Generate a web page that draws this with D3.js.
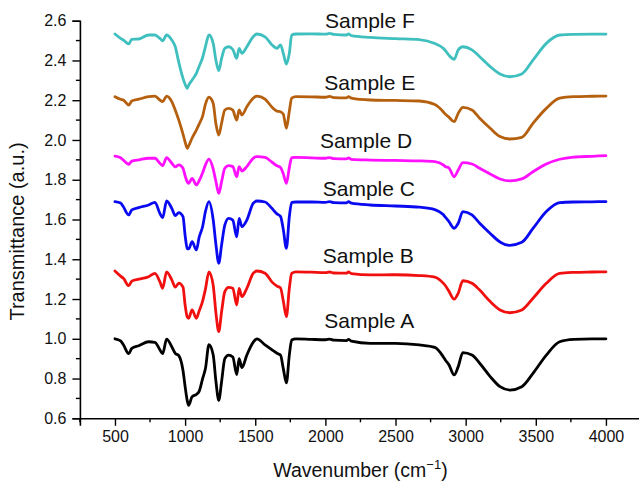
<!DOCTYPE html>
<html>
<head>
<meta charset="utf-8">
<script src="https://cdn.jsdelivr.net/npm/d3@7"></script>
<style>
  html, body { margin: 0; padding: 0; background: #fff; }
  svg { display: block; font-family: "Liberation Sans", Arial, sans-serif; }
</style>
</head>
<body>
<svg id="chart" width="639" height="483"></svg>
<script>
// ---------------- data ----------------
const wavenumbers = [500, 540, 560, 598, 620, 670, 740, 785, 820, 840, 868, 905, 930, 955, 985, 1000, 1015, 1025, 1050, 1080,
  1100, 1125, 1145, 1170, 1200, 1220, 1240, 1260, 1283, 1310, 1340, 1368, 1385, 1405, 1440, 1485, 1512, 1570, 1620, 1655,
  1680, 1700, 1722, 1743, 1760, 1790, 1900, 2000, 2030, 2060, 2150, 2165, 2185, 2320, 2500, 2670, 2780, 2840, 2855, 2880,
  2918, 2947, 2980, 3045, 3100, 3175, 3245, 3315, 3400, 3480, 3575, 3670, 3770, 3900, 4000];

const sampleA = [1.000, 0.990, 0.970, 0.925, 0.952, 0.965, 0.985, 0.982, 0.945, 0.925, 0.998, 0.960, 0.927, 0.915, 0.840, 0.760, 0.690, 0.665, 0.709, 0.720,
  0.735, 0.800, 0.850, 0.970, 0.920, 0.784, 0.690, 0.784, 0.900, 0.918, 0.908, 0.820, 0.900, 0.855, 0.918, 0.982, 1.000, 0.969, 0.944, 0.927,
  0.918, 0.850, 0.778, 0.918, 0.994, 1.000, 0.997, 0.995, 0.998, 0.993, 0.991, 0.997, 0.988, 0.977, 0.977, 0.969, 0.957, 0.910, 0.893, 0.870,
  0.818, 0.860, 0.930, 0.918, 0.877, 0.810, 0.759, 0.742, 0.759, 0.826, 0.918, 0.985, 0.997, 1.000, 1.000];

const sampleB = [1.341, 1.315, 1.304, 1.267, 1.290, 1.300, 1.312, 1.329, 1.287, 1.254, 1.337, 1.296, 1.260, 1.280, 1.260, 1.170, 1.110, 1.103, 1.145, 1.103,
  1.140, 1.190, 1.250, 1.337, 1.270, 1.128, 1.036, 1.136, 1.237, 1.259, 1.254, 1.170, 1.254, 1.212, 1.254, 1.329, 1.341, 1.330, 1.285, 1.265,
  1.256, 1.190, 1.111, 1.254, 1.329, 1.337, 1.335, 1.333, 1.336, 1.331, 1.330, 1.336, 1.328, 1.321, 1.322, 1.318, 1.310, 1.280, 1.268, 1.240,
  1.199, 1.229, 1.292, 1.279, 1.245, 1.187, 1.145, 1.131, 1.145, 1.204, 1.279, 1.329, 1.334, 1.336, 1.337];

const sampleC = [1.690, 1.683, 1.664, 1.623, 1.648, 1.660, 1.673, 1.686, 1.631, 1.609, 1.693, 1.656, 1.620, 1.635, 1.614, 1.520, 1.455, 1.452, 1.488, 1.447,
  1.510, 1.565, 1.640, 1.690, 1.600, 1.472, 1.380, 1.472, 1.572, 1.606, 1.597, 1.513, 1.606, 1.564, 1.597, 1.681, 1.693, 1.688, 1.655, 1.628,
  1.616, 1.550, 1.455, 1.614, 1.686, 1.688, 1.688, 1.686, 1.690, 1.685, 1.684, 1.690, 1.682, 1.673, 1.668, 1.662, 1.650, 1.625, 1.612, 1.590,
  1.556, 1.581, 1.640, 1.623, 1.581, 1.530, 1.487, 1.470, 1.485, 1.555, 1.640, 1.685, 1.688, 1.689, 1.690];

const sampleD = [1.919, 1.911, 1.899, 1.878, 1.894, 1.900, 1.908, 1.908, 1.883, 1.871, 1.911, 1.883, 1.865, 1.875, 1.858, 1.820, 1.790, 1.782, 1.807, 1.774,
  1.795, 1.835, 1.875, 1.904, 1.855, 1.790, 1.732, 1.790, 1.858, 1.871, 1.866, 1.815, 1.866, 1.844, 1.866, 1.908, 1.916, 1.912, 1.888, 1.870,
  1.862, 1.830, 1.782, 1.861, 1.911, 1.912, 1.910, 1.908, 1.911, 1.906, 1.905, 1.910, 1.902, 1.899, 1.897, 1.895, 1.891, 1.875, 1.866, 1.860,
  1.815, 1.849, 1.886, 1.879, 1.858, 1.829, 1.804, 1.794, 1.804, 1.840, 1.879, 1.903, 1.914, 1.918, 1.921];

const sampleE = [2.218, 2.205, 2.201, 2.176, 2.196, 2.205, 2.218, 2.221, 2.201, 2.193, 2.221, 2.193, 2.150, 2.100, 2.030, 1.990, 1.958, 1.970, 2.010, 2.050,
  2.080, 2.120, 2.180, 2.215, 2.185, 2.080, 2.025, 2.084, 2.151, 2.159, 2.150, 2.100, 2.151, 2.126, 2.167, 2.210, 2.221, 2.205, 2.165, 2.145,
  2.142, 2.130, 2.059, 2.145, 2.210, 2.218, 2.217, 2.215, 2.219, 2.213, 2.212, 2.218, 2.210, 2.201, 2.199, 2.196, 2.178, 2.142, 2.130, 2.115,
  2.092, 2.134, 2.164, 2.151, 2.109, 2.059, 2.017, 2.005, 2.013, 2.084, 2.159, 2.210, 2.218, 2.220, 2.221];

const sampleF = [2.533, 2.511, 2.503, 2.483, 2.506, 2.508, 2.528, 2.528, 2.511, 2.499, 2.528, 2.503, 2.469, 2.390, 2.310, 2.280, 2.260, 2.275, 2.302, 2.335,
  2.370, 2.415, 2.470, 2.528, 2.486, 2.400, 2.349, 2.410, 2.461, 2.469, 2.455, 2.411, 2.461, 2.436, 2.469, 2.519, 2.533, 2.519, 2.478, 2.461,
  2.478, 2.436, 2.382, 2.436, 2.528, 2.533, 2.534, 2.532, 2.536, 2.531, 2.528, 2.534, 2.525, 2.516, 2.510, 2.505, 2.485, 2.461, 2.450, 2.427,
  2.406, 2.453, 2.469, 2.453, 2.419, 2.369, 2.332, 2.318, 2.332, 2.402, 2.486, 2.528, 2.531, 2.532, 2.532];

const seriesNames = ["Sample A", "Sample B", "Sample C", "Sample D", "Sample E", "Sample F"];
const seriesValues = [sampleA, sampleB, sampleC, sampleD, sampleE, sampleF];
const xTicks = [500, 1000, 1500, 2000, 2500, 3000, 3500, 4000];
const yTicks = [0.6, 0.8, 1.0, 1.2, 1.4, 1.6, 1.8, 2.0, 2.2, 2.4, 2.6];

// ---------------- styling / layout ----------------
const colors = ["#000000", "#f01010", "#0a0af0", "#ff10ff", "#b5600f", "#40bfbf"];
// label anchors (wavenumber, transmittance) for each sample name
const labelAnchors = [[1992, 1.054], [1981, 1.383], [1981, 1.716], [1961, 1.960], [1992, 2.249], [1997, 2.563]];

const svg = d3.select("#chart");
const x = d3.scaleLinear().domain([250, 4250]).range([79.9, 641]);
const y = d3.scaleLinear().domain([0.6, 2.6]).range([418.3, 20.7]);

// series lines
const line = d3.line()
  .x(d => x(d[0]))
  .y(d => y(d[1]))
  .curve(d3.curveMonotoneX);

seriesValues.forEach((vals, i) => {
  const pts = wavenumbers.map((w, j) => [w, vals[j]]);
  svg.append("path")
    .datum(pts)
    .attr("fill", "none")
    .attr("stroke", colors[i])
    .attr("stroke-width", 2.8)
    .attr("stroke-linejoin", "round")
    .attr("stroke-linecap", "round")
    .attr("d", line);
});

// labels
seriesNames.forEach((name, i) => {
  svg.append("text")
    .attr("x", x(labelAnchors[i][0]))
    .attr("y", y(labelAnchors[i][1]))
    .attr("font-size", 21)
    .attr("fill", "#111")
    .text(name);
});

// x axis
const xMinor = d3.range(250, 4251, 250).filter(v => v % 500 !== 0);
const gx = svg.append("g").attr("transform", `translate(0,${y(0.6)})`);
gx.call(d3.axisBottom(x).tickValues(xTicks).tickSize(7.5).tickPadding(5).tickFormat(d3.format("d")));
gx.append("g").selectAll("line").data(xMinor).join("line")
  .attr("x1", d => x(d)).attr("x2", d => x(d)).attr("y1", 0).attr("y2", 4)
  .attr("stroke", "#000").attr("stroke-width", 1.4);

// y axis
const yMinor = d3.range(0.7, 2.6, 0.2);
const gy = svg.append("g").attr("transform", `translate(${x(250)},0)`);
gy.call(d3.axisLeft(y).tickValues(yTicks).tickSize(7.5).tickPadding(6).tickFormat(d3.format(".1f")));
gy.append("g").selectAll("line").data(yMinor).join("line")
  .attr("y1", d => y(d)).attr("y2", d => y(d)).attr("x1", 0).attr("x2", -4)
  .attr("stroke", "#000").attr("stroke-width", 1.4);

[gx, gy].forEach(g => {
  g.select(".domain").attr("stroke", "#000").attr("stroke-width", 1.6);
  g.selectAll(".tick line").attr("stroke", "#000").attr("stroke-width", 1.4);
  g.selectAll(".tick text").attr("font-size", 16).attr("fill", "#111")
    .attr("font-family", "'Liberation Sans', Arial, sans-serif");
});

// axis titles
const xt = svg.append("text")
  .attr("x", (x.range()[0] + x.range()[1]) / 2)
  .attr("y", 477)
  .attr("text-anchor", "middle")
  .attr("font-size", 19.5)
  .attr("fill", "#111");
xt.append("tspan").text("Wavenumber (cm");
xt.append("tspan").attr("font-size", 13).attr("dy", -8).text("\u22121");
xt.append("tspan").attr("dy", 8).text(")");

svg.append("text")
  .attr("transform", "translate(24,231.5) rotate(-90)")
  .attr("text-anchor", "middle")
  .attr("font-size", 20)
  .attr("fill", "#111")
  .text("Transmittance (a.u.)");
</script>
</body>
</html>
